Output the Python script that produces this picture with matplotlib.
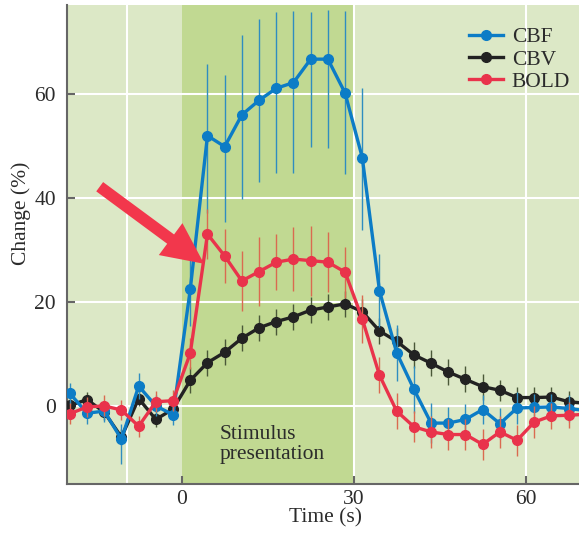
import numpy as np
import matplotlib.pyplot as plt
from matplotlib.lines import Line2D

# %% data
t = [-19.5, -16.5, -13.5, -10.5, -7.5, -4.5, -1.5, 1.5, 4.5, 7.5,
     10.5, 13.5, 16.5, 19.5, 22.5, 25.5, 28.5, 31.5, 34.5, 37.5,
     40.5, 43.5, 46.5, 49.5, 52.5, 55.5, 58.5, 61.5, 64.5, 67.5, 70.5]

cbf = [2.4, -1.4, -1.0, -6.4, 3.8, 0.0, -1.7, 22.4, 51.9, 49.8,
       55.9, 58.7, 61.0, 62.1, 66.6, 66.6, 60.1, 47.7, 22.1, 10.2,
       3.2, -3.3, -3.3, -2.6, -0.7, -3.4, -0.4, -0.3, -0.2, -0.5, -0.9]
cbf_lo = [2.0, 2.0, 2.0, 4.7, 2.5, 2.0, 2.0, 7.0, 14.9, 14.4,
          16.2, 15.6, 16.3, 17.3, 16.8, 17.0, 15.6, 13.9, 7.0, 5.4,
          4.5, 3.8, 3.0, 3.0, 2.7, 3.0, 3.0, 2.5, 2.5, 2.5, 2.5]
cbf_hi = [2.0, 2.0, 2.0, 3.0, 2.5, 2.0, 2.0, 7.0, 13.7, 13.8,
          15.4, 15.6, 14.7, 13.8, 9.0, 9.4, 15.8, 13.3, 7.0, 5.4,
          4.5, 3.8, 3.0, 3.0, 2.7, 3.0, 3.0, 2.5, 2.5, 2.5, 2.5]

cbv = [0.1, 1.2, -1.2, -6.0, 1.4, -2.6, -0.6, 4.9, 8.3, 10.3,
       13.0, 15.0, 16.2, 17.1, 18.4, 19.0, 19.6, 18.1, 14.4, 12.4,
       9.8, 8.2, 6.5, 5.1, 3.7, 3.0, 1.6, 1.6, 1.7, 0.8, 0.5]
cbv_err = [1.5, 1.5, 1.5, 1.5, 1.5, 1.5, 1.5, 2.5, 2.5, 2.5,
           2.5, 2.5, 2.5, 2.5, 2.5, 2.5, 2.5, 2.5, 2.5, 2.5,
           2.5, 2.5, 2.5, 2.5, 2.5, 2.0, 2.0, 2.0, 2.0, 2.0, 2.0]

bold = [-1.5, -0.2, 0.0, -0.8, -3.9, 0.8, 1.0, 10.1, 33.0, 28.8,
        24.0, 25.8, 27.6, 28.2, 27.9, 27.6, 25.7, 16.7, 5.9, -1.0,
        -4.0, -5.0, -5.5, -5.5, -7.4, -5.0, -6.6, -3.1, -1.9, -1.8, -1.6]
bold_err = [2.0, 2.0, 2.0, 2.0, 2.0, 2.0, 2.0, 3.0, 4.8, 5.2,
            5.8, 6.7, 5.4, 6.2, 6.7, 5.8, 4.9, 4.6, 3.5, 3.4,
            3.0, 3.0, 3.0, 3.0, 3.0, 3.0, 3.0, 3.0, 2.5, 2.5, 2.5]

labels = ['CBF', 'CBV', 'BOLD']
xticks = [0, 30, 60]
yticks = [0, 20, 40, 60]

# %% style
plt.rcParams['font.family'] = ['Liberation Serif', 'DejaVu Serif']
bg = '#dce8c6'
stim = '#c1d992'
colors = ['#0c7cc6', '#222222', '#e9334b']
ecolors = ['#2f8dc0', '#4a5838', '#da6a50']
txtc = '#2b2b2b'

fig = plt.figure(figsize=(5.79, 5.34), dpi=100)
ax = fig.add_axes([67/579, 1 - 484/534, 512/579, 479/534])
ax.set_facecolor(bg)
ax.axvspan(0, 30, color=stim, lw=0, zorder=0)
for y in yticks:
    ax.axhline(y, color='white', lw=1.5, zorder=1)
for x in [-9.5, 30, 60]:
    ax.axvline(x, color='white', lw=1.5, zorder=1)

# %% series
series = [(cbf, [cbf_lo, cbf_hi], 4), (cbv, cbv_err, 3), (bold, bold_err, 5)]
for (vals, err, z), c, ec in zip(series, colors, ecolors):
    ax.errorbar(t, vals, yerr=err, color=c, ecolor=ec, elinewidth=1.0,
                lw=2.4, marker='o', ms=7, capsize=0, zorder=z)

# arrow pointing at the BOLD overshoot
ax.annotate('', xy=(3.9, 27.3), xytext=(-14.3, 42.1),
            arrowprops=dict(arrowstyle='simple,head_length=1.15,head_width=1.1,tail_width=0.32',
                            color='#f2374c', lw=0, shrinkA=0, shrinkB=0,
                            mutation_scale=26), zorder=6)

ax.text(6.6, -7.4, 'Stimulus\npresentation', fontsize=15.5, color=txtc,
        ha='left', va='center', linespacing=1.05)

# %% axes
ax.set_xlim(-20, 69.3)
ax.set_ylim(-15, 77)
ax.set_xticks(xticks)
ax.set_yticks(yticks)
ax.tick_params(direction='in', length=6, width=1.5, color='#666666',
               labelsize=15.5, labelcolor=txtc)
ax.tick_params(axis='y', pad=8)
ax.tick_params(axis='x', pad=4)
for s in ['top', 'right']:
    ax.spines[s].set_visible(False)
for s in ['left', 'bottom']:
    ax.spines[s].set_color('#666666')
    ax.spines[s].set_linewidth(1.5)

ax.set_xlabel('Time (s)', fontsize=15.5, color=txtc)
ax.set_ylabel('Change (%)', fontsize=15.5, color=txtc)
ax.xaxis.set_label_coords(0.504, -0.05)
ax.yaxis.set_label_coords(-0.07, 0.566)

handles = [Line2D([], [], color=c, lw=2.4, marker='o', ms=7) for c in colors]
leg = ax.legend(handles, labels, loc='upper right', bbox_to_anchor=(1.012, 0.985),
                frameon=False, fontsize=15.5, handlelength=1.6,
                handletextpad=0.4, labelspacing=0.1, borderaxespad=0.3)
for txt in leg.get_texts():
    txt.set_color(txtc)

fig.savefig('out.png', dpi=100)
